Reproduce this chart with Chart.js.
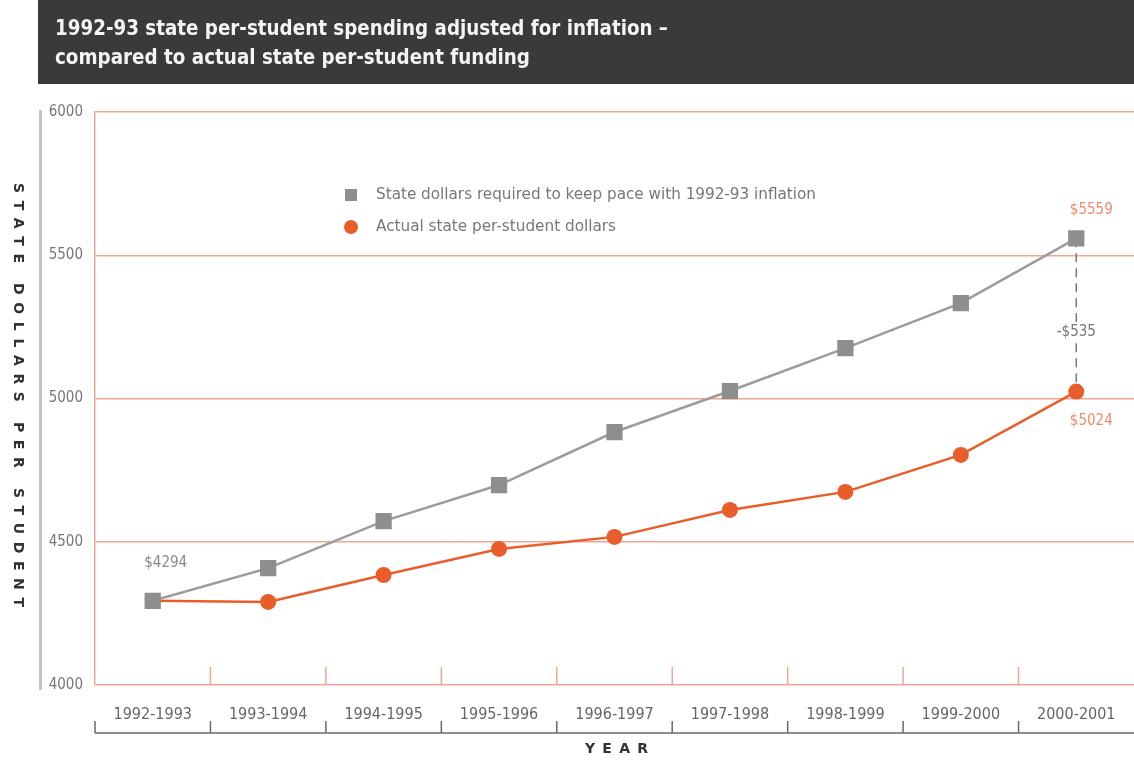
<!DOCTYPE html>
<html>
<head>
<meta charset="utf-8">
<script src="https://cdn.jsdelivr.net/npm/chart.js@4.4.1/dist/chart.umd.min.js"></script>
<style>
  html, body { margin: 0; padding: 0; background: #fff; }
  #wrap { width: 1134px; height: 760px; }
</style>
</head>
<body>
<div id="wrap"><canvas id="chart" width="1134" height="760"></canvas></div>
<script>
// data
const years = ['1992-1993', '1993-1994', '1994-1995', '1995-1996', '1996-1997',
               '1997-1998', '1998-1999', '1999-2000', '2000-2001'];
const requiredDollars = [4294, 4408, 4572, 4698, 4883, 5026, 5176, 5333, 5559];
const actualDollars   = [4294, 4290, 4384, 4475, 4517, 4611, 4674, 4803, 5024];
const yMin = 4000, yMax = 6000, yStep = 500;

const titleLines = ['1992-93 state per-student spending adjusted for inflation \u2013',
                    'compared to actual state per-student funding'];
const legendLabels = ['State dollars required to keep pace with 1992-93 inflation',
                      'Actual state per-student dollars'];
const yTitle = 'STATE DOLLARS PER STUDENT';
const xTitle = 'YEAR';
const startLabel = '$4294';
const endRequiredLabel = '$5559';
const endActualLabel = '$5024';
const gapLabel = '-$535';

const NARROW = '"Liberation Sans Narrow", "DejaVu Sans Condensed", "Roboto Condensed", sans-serif';
const GRAY = '#8e8e8e';
const ORANGE = '#e85d2a';
const PINK = '#f3a595';

// draw text squeezed/stretched horizontally to a target width
function fitText(ctx, text, x, y, width) {
  const w = ctx.measureText(text).width;
  ctx.save();
  ctx.translate(x, y);
  ctx.scale(width / w, 1);
  ctx.fillText(text, 0, 0);
  ctx.restore();
}

// draw spaced out letters across a given length
function spacedText(ctx, text, x, y, length) {
  const widths = [...text].map(ch => ctx.measureText(ch).width);
  const total = widths.reduce((a, b) => a + b, 0);
  const gap = (length - total) / (text.length - 1);
  let pos = x;
  [...text].forEach((ch, i) => {
    ctx.fillText(ch, pos, y);
    pos += widths[i] + gap;
  });
}

const decor = {
  id: 'decor',
  beforeDraw(chart) {
    const ctx = chart.ctx;
    const area = chart.chartArea;
    const xs = chart.scales.x;
    ctx.save();
    ctx.fillStyle = '#fff';
    ctx.fillRect(0, 0, chart.width, chart.height);

    // title bar
    ctx.fillStyle = '#3a3a3a';
    ctx.fillRect(38, 0, chart.width - 38, 84);
    ctx.fillStyle = '#f4f4f4';
    ctx.font = 'bold 22px ' + NARROW;
    ctx.textBaseline = 'middle';
    fitText(ctx, titleLines[0], 55, 29, 613);
    fitText(ctx, titleLines[1], 55, 58, 475);

    // gray rule left of the y axis
    ctx.fillStyle = '#c4c4c4';
    ctx.fillRect(39, 110, 3, 580);

    // y axis title, reading top to bottom
    ctx.save();
    ctx.translate(18, 183);
    ctx.rotate(Math.PI / 2);
    ctx.fillStyle = '#333';
    ctx.font = 'bold 14px "DejaVu Sans", sans-serif';
    ctx.textBaseline = 'middle';
    spacedText(ctx, yTitle, 0, 0, 424);
    ctx.restore();

    // bottom bracket under the year labels
    ctx.strokeStyle = '#6a6a6a';
    ctx.lineWidth = 1.5;
    ctx.beginPath();
    ctx.moveTo(area.left, 733);
    ctx.lineTo(chart.width, 733);
    const bounds = [area.left];
    for (let i = 0; i < years.length - 1; i++) {
      bounds.push((xs.getPixelForValue(i) + xs.getPixelForValue(i + 1)) / 2);
    }
    bounds.forEach(bx => { ctx.moveTo(bx, 721); ctx.lineTo(bx, 733); });
    ctx.stroke();

    // x axis title
    ctx.fillStyle = '#333';
    ctx.font = 'bold 14px "DejaVu Sans", sans-serif';
    ctx.textBaseline = 'middle';
    spacedText(ctx, xTitle, 585, 749, 63);
    ctx.restore();
  },
  beforeDatasetsDraw(chart) {
    const ctx = chart.ctx;
    const area = chart.chartArea;
    const xs = chart.scales.x, ys = chart.scales.y;
    ctx.save();
    // short tick marks inside the plot bottom
    ctx.strokeStyle = PINK;
    ctx.lineWidth = 1.5;
    ctx.beginPath();
    for (let i = 0; i < years.length - 1; i++) {
      const bx = (xs.getPixelForValue(i) + xs.getPixelForValue(i + 1)) / 2;
      ctx.moveTo(bx, area.bottom - 18);
      ctx.lineTo(bx, area.bottom);
    }
    ctx.stroke();

    // dashed gap line at the last year
    const last = years.length - 1;
    const lx = xs.getPixelForValue(last);
    const yTop = ys.getPixelForValue(requiredDollars[last]);
    const yBot = ys.getPixelForValue(actualDollars[last]);
    ctx.strokeStyle = '#777';
    ctx.lineWidth = 1.5;
    ctx.setLineDash([9, 6]);
    ctx.beginPath();
    ctx.moveTo(lx, yTop);
    ctx.lineTo(lx, yBot);
    ctx.stroke();
    ctx.setLineDash([]);

    // gap label with a white patch behind it
    const gy = (yTop + yBot) / 2 + 17;
    ctx.font = '15px ' + NARROW;
    ctx.textAlign = 'center';
    ctx.textBaseline = 'middle';
    const gw = ctx.measureText(gapLabel).width;
    ctx.fillStyle = '#fff';
    ctx.fillRect(lx - gw / 2 - 2, gy - 10, gw + 4, 20);
    ctx.fillStyle = '#777';
    ctx.fillText(gapLabel, lx, gy);
    ctx.restore();
  },
  afterDatasetsDraw(chart) {
    const ctx = chart.ctx;
    const xs = chart.scales.x, ys = chart.scales.y;
    const last = years.length - 1;
    ctx.save();
    ctx.font = '15px ' + NARROW;
    ctx.textAlign = 'center';
    ctx.textBaseline = 'middle';

    ctx.fillStyle = '#8a8a8a';
    ctx.fillText(startLabel, xs.getPixelForValue(0) + 13, ys.getPixelForValue(requiredDollars[0]) - 38);

    ctx.fillStyle = '#ef8a6c';
    ctx.fillText(endRequiredLabel, xs.getPixelForValue(last) + 15, ys.getPixelForValue(requiredDollars[last]) - 28);
    ctx.fillText(endActualLabel, xs.getPixelForValue(last) + 15, ys.getPixelForValue(actualDollars[last]) + 29);

    // legend
    ctx.fillStyle = GRAY;
    ctx.fillRect(345, 189, 12, 12);
    ctx.fillStyle = ORANGE;
    ctx.beginPath();
    ctx.arc(351, 227, 7, 0, Math.PI * 2);
    ctx.fill();
    ctx.fillStyle = '#777';
    ctx.textAlign = 'left';
    ctx.font = '16px ' + NARROW;
    fitText(ctx, legendLabels[0], 376, 195, 440);
    fitText(ctx, legendLabels[1], 376, 227, 240);
    ctx.restore();
  }
};

new Chart(document.getElementById('chart'), {
  type: 'line',
  data: {
    labels: years,
    datasets: [
      {
        label: legendLabels[0],
        data: requiredDollars,
        borderColor: '#9c9c9c',
        borderWidth: 2.5,
        pointStyle: 'rect',
        pointRadius: 11.5,
        pointBackgroundColor: GRAY,
        pointBorderWidth: 0,
        tension: 0
      },
      {
        label: legendLabels[1],
        data: actualDollars,
        borderColor: ORANGE,
        borderWidth: 2.5,
        pointStyle: 'circle',
        pointRadius: 8,
        pointBackgroundColor: ORANGE,
        pointBorderWidth: 0,
        tension: 0
      }
    ]
  },
  options: {
    responsive: false,
    animation: false,
    layout: { autoPadding: false, padding: { left: 35, top: 112, right: 0, bottom: 25 } },
    plugins: {
      legend: { display: false },
      tooltip: { enabled: false }
    },
    scales: {
      x: {
        offset: true,
        grid: { display: false },
        border: { display: false },
        ticks: {
          color: '#666',
          padding: 12,
          maxRotation: 0,
          font: { family: NARROW, size: 16 }
        },
        afterFit(scale) {
          scale.height = 50;
          scale.paddingLeft = 0;
          scale.paddingRight = 0;
        }
      },
      y: {
        min: yMin,
        max: yMax,
        ticks: {
          stepSize: yStep,
          color: '#777',
          padding: 12,
          font: { family: NARROW, size: 15 },
          callback: v => String(v)
        },
        grid: { color: PINK, lineWidth: 1.5, drawTicks: false },
        border: { display: true, color: PINK, width: 1.5 },
        afterFit(scale) { scale.width = 60; }
      }
    }
  },
  plugins: [decor]
});
</script>
</body>
</html>
